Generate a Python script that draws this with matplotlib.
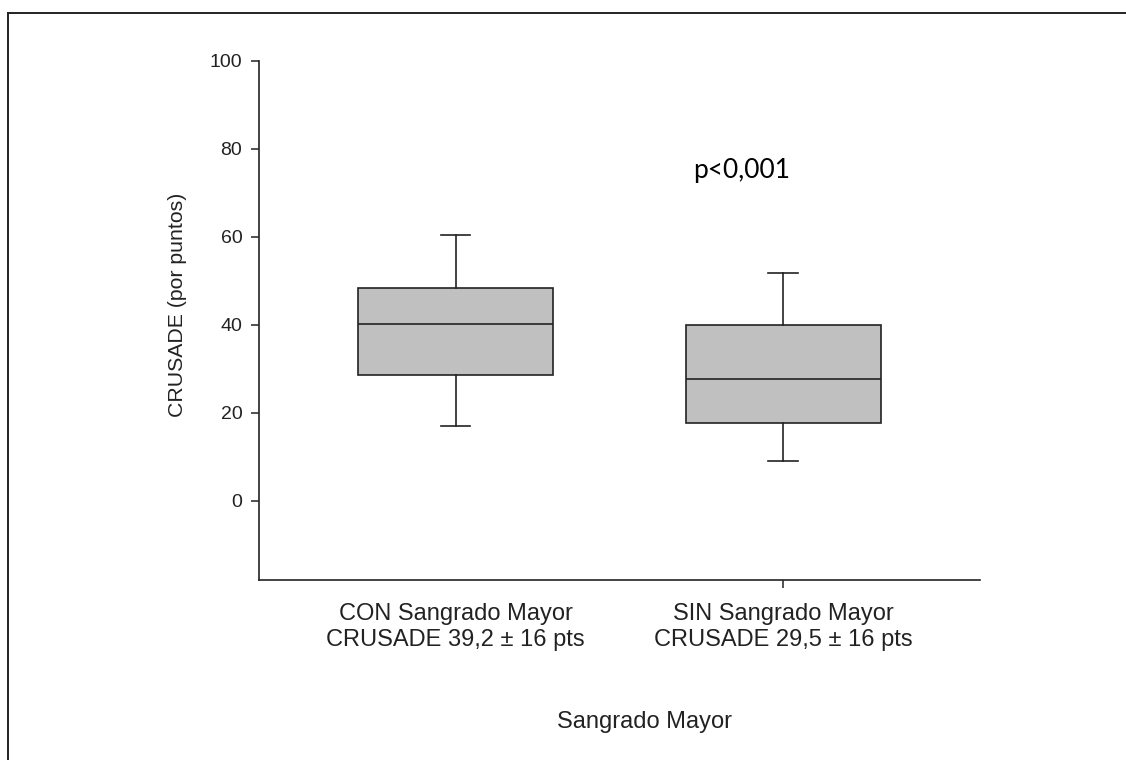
import matplotlib
matplotlib.use("Agg")
import matplotlib.pyplot as plt
from matplotlib.lines import Line2D

# Box summaries (CRUSADE score) per group
groups = ["CON Sangrado Mayor\nCRUSADE 39,2 ± 16 pts",
          "SIN Sangrado Mayor\nCRUSADE 29,5 ± 16 pts"]
whisker_low = [17.0, 9.0]
q1 = [28.6, 17.7]
median = [40.2, 27.7]
q3 = [48.3, 39.9]
whisker_high = [60.4, 51.7]
y_ticks = [0, 20, 40, 60, 80, 100]
p_text = "p<0,001"

plt.rcParams['font.family'] = ['Liberation Sans', 'DejaVu Sans']

fig = plt.figure(figsize=(11.26, 7.6), dpi=100)
ax = fig.add_axes([0.230, 0.2368, 0.640, 0.6832])

stats = []
for i in range(len(groups)):
    stats.append(dict(whislo=whisker_low[i], q1=q1[i], med=median[i],
                      q3=q3[i], whishi=whisker_high[i], fliers=[]))

ax.bxp(stats, positions=[1, 2], widths=0.595, patch_artist=True,
       showfliers=False,
       boxprops=dict(facecolor='#c0c0c0', edgecolor='#222222', linewidth=1.2),
       medianprops=dict(color='#222222', linewidth=1.2),
       whiskerprops=dict(color='#222222', linewidth=1.2),
       capprops=dict(color='#222222', linewidth=1.2),
       capwidths=0.09)

ax.set_xlim(0.4, 2.6)
ax.set_ylim(-18, 100)
ax.set_yticks(y_ticks)
ax.set_xticks([1, 2])
ax.set_xticklabels(groups, fontsize=17, linespacing=1.25)
ax.tick_params(axis='y', labelsize=14, length=5.5, width=1.1, pad=6.5, colors='#222222')
ax.tick_params(axis='x', length=5.5, width=1.1, pad=11, colors='#222222')
ax.xaxis.get_major_ticks()[0].tick1line.set_visible(False)

for side in ['top', 'right']:
    ax.spines[side].set_visible(False)
for side in ['left', 'bottom']:
    ax.spines[side].set_linewidth(1.2)
    ax.spines[side].set_color('#222222')

ax.set_ylabel("CRUSADE (por puntos)", fontsize=15.3, color='#222222')
ax.yaxis.set_label_coords(-0.100, 0.53)
ax.set_xlabel("Sangrado Mayor", fontsize=17, color='#222222')
ax.xaxis.set_label_coords(0.535, -0.253)

ax.text(1.724, 73.3, p_text, fontsize=19, family=['Lato', 'DejaVu Sans'],
        color='black', ha='left', va='baseline')

# frame lines along the left and top edges of the figure
fig.add_artist(Line2D([8 / 1126, 8 / 1126], [0, 1 - 13 / 760],
                      transform=fig.transFigure, color='#222222', linewidth=1.4))
fig.add_artist(Line2D([8 / 1126, 1], [1 - 13 / 760, 1 - 13 / 760],
                      transform=fig.transFigure, color='#222222', linewidth=1.4))

fig.savefig("out.png", dpi=100)
